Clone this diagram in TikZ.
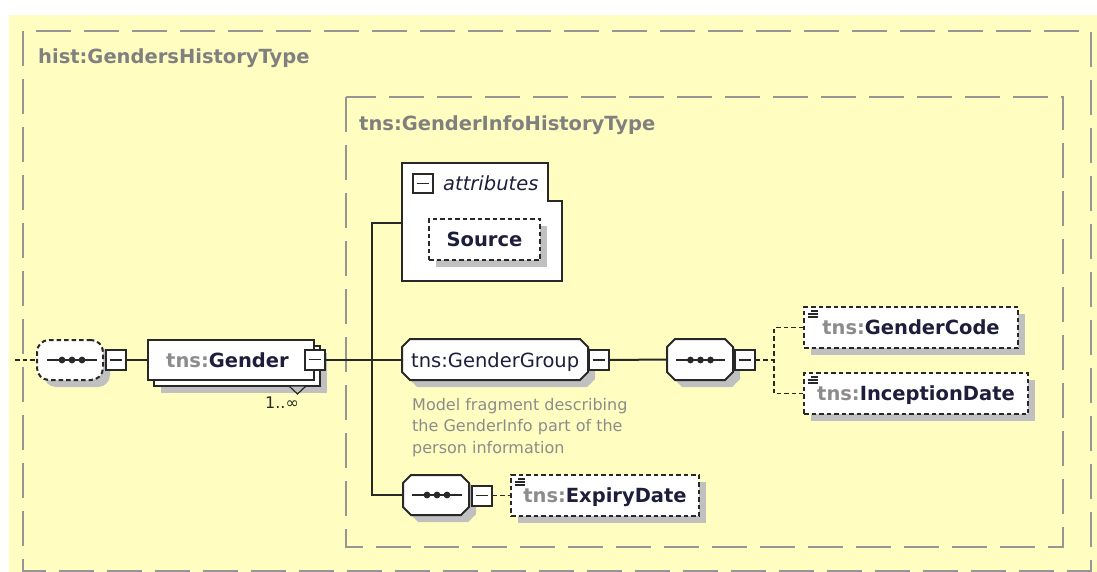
\documentclass[tikz,border=0pt]{standalone}
\usepackage{fontspec}
\setmainfont{DejaVu Sans}
\usetikzlibrary{shadows}
\definecolor{bgy}{RGB}{255,254,192}
\definecolor{framec}{RGB}{150,150,150}
\definecolor{titlec}{RGB}{128,128,128}
\definecolor{shadowc}{RGB}{192,192,192}
\definecolor{edgec}{RGB}{40,40,40}
\definecolor{namec}{RGB}{30,30,60}
\definecolor{prefc}{RGB}{140,140,140}
\definecolor{descc}{RGB}{140,140,140}
\newcommand\octo[4]{%
 \fill[shadowc] (#1+15,#2+7) -- (#3-1,#2+7) -- (#3+7,#2+15) -- (#3+7,#4-1) -- (#3-1,#4+7) -- (#1+15,#4+7) -- (#1+7,#4-1) -- (#1+7,#2+15) -- cycle;
 \draw[elemline, fill=white] (#1+8,#2) -- (#3-8,#2) -- (#3,#2+8) -- (#3,#4-8) -- (#3-8,#4) -- (#1+8,#4) -- (#1,#4-8) -- (#1,#2+8) -- cycle;}
\newcommand\seqdots[3]{%
 \draw[elemline] (#1,#3) -- (#2,#3);
 \fill[edgec] ({(#1+#2)/2-10},#3) circle (3.4pt) ({(#1+#2)/2},#3) circle (3.4pt) ({(#1+#2)/2+10},#3) circle (3.4pt);}
\newcommand\elemicon[2]{%
 \draw[edgec, line width=1.2pt] (#1+3,#2) -- (#1+10,#2) (#1,#2+3) -- (#1+10,#2+3) (#1,#2+6) -- (#1+10,#2+6);}
\tikzset{
 frame/.style={draw=framec, line width=2.8pt, dash pattern=on 35pt off 13pt},
 titletext/.style={text=titlec, font=\fontsize{19.5}{23}\selectfont\bfseries, inner sep=0, anchor=base west},
 elemline/.style={draw=edgec, line width=2pt},
 shad/.style={drop shadow={shadow xshift=7pt, shadow yshift=-7pt, fill=shadowc, opacity=1}},
 optbox/.style={elemline, dash pattern=on 4.5pt off 3pt, fill=white, shad, inner sep=0, minimum height=41pt, text height=16pt, text depth=2pt, font=\fontsize{19.5}{23}\selectfont\bfseries, text=namec},
 minusbox/.style={elemline, fill=white, inner sep=0, minimum width=20pt, minimum height=20pt, path picture={\draw[edgec, line width=1.6pt] ([xshift=4pt]path picture bounding box.west) -- ([xshift=-4pt]path picture bounding box.east);}},
 hit/.style={inner sep=0, outer sep=0},
 conn/.style={draw=edgec, line width=2pt},
 dconn/.style={draw=edgec, line width=1.8pt, dash pattern=on 4.5pt off 3pt},
}
\begin{document}
\begin{tikzpicture}[x=1pt,y=-1pt]
\useasboundingbox (0,0) rectangle (1097,572);
\fill[white] (0,0) rectangle (1097,572);
\fill[bgy] (9,15) rectangle (1097,572);
% containers
\draw[frame] (23,31) rectangle (1091,571);
\node[titletext] (t1) at (38,64) {hist:GendersHistoryType};
\draw[frame] (346,97) rectangle (1063,547);
\node[titletext] (t2) at (359,131) {tns:GenderInfoHistoryType};
% left sequence (optional)
\node[elemline, dash pattern=on 4.5pt off 3pt, fill=white, shad, rounded corners=12pt, minimum width=66pt, minimum height=40pt, inner sep=0] (seq1) at (70,360) {};
\seqdots{47}{97}{360}
\node[minusbox] (m1) at (115.5,360) {};
% Gender element (multiple)
\node[elemline, fill=white, shad, minimum width=166pt, minimum height=40pt, inner sep=0] (genderback) at (237,366) {};
\node[elemline, fill=white, minimum width=166pt, minimum height=40pt, inner sep=0] (gender) at (231,360) {};
\node[anchor=base west, inner sep=0, font=\fontsize{19.5}{23}\selectfont\bfseries] (gendertxt) at (166,367) {\textcolor{prefc}{tns:}\textcolor{namec}{Gender}};
\node[minusbox] (m2) at (314.5,359.5) {};
\draw[edgec, line width=1.2pt, fill=shadowc] (289,386) -- (306,386) -- (297.5,394) -- cycle;
\node[anchor=base west, inner sep=0, font=\fontsize{16}{19}\selectfont, text=edgec] (card) at (265,408) {1..∞};
% attributes
\draw[elemline, fill=white] (402,163) -- (548,163) -- (548,201) -- (562,201) -- (562,281) -- (402,281) -- cycle;
\node[hit, minimum width=160pt, minimum height=118pt] (attr) at (482,223) {};
\node[minusbox, minimum width=20pt, minimum height=19pt] (ma) at (422.5,183.5) {};
\node[anchor=base west, inner sep=0, font=\fontsize{19.5}{23}\selectfont\itshape, text=namec] (attrtxt) at (443,190) {attributes};
\node[optbox, minimum width=111pt] (src) at (484.5,239.5) {Source};
% GenderGroup
\octo{402}{339}{588}{380}
\node[hit, minimum width=186pt, minimum height=41pt] (gg) at (495,359.5) {};
\node[anchor=base west, inner sep=0, font=\fontsize{19.5}{23}\selectfont, text=namec] (ggtxt) at (411,367) {tns:GenderGroup};
\node[minusbox] (m3) at (598.5,360) {};
\node[anchor=north west, inner sep=0, align=left, font=\fontsize{16}{21.5}\selectfont, text=descc] (desc) at (412,398) {Model fragment describing\\the GenderInfo part of the\\person information};
% second sequence
\octo{667}{339}{733}{380}
\node[hit, minimum width=66pt, minimum height=41pt] (seq2) at (700,359.5) {};
\seqdots{676}{725}{360}
\node[minusbox] (m4) at (744.5,360) {};
% children
\node[optbox, minimum width=214pt] (gc) at (911,327.5) {\textcolor{prefc}{tns:}GenderCode};
\elemicon{808}{311}
\node[optbox, minimum width=224pt] (id) at (916,393.5) {\textcolor{prefc}{tns:}InceptionDate};
\elemicon{808}{377}
% third sequence
\octo{403}{475}{469}{515}
\node[hit, minimum width=66pt, minimum height=40pt] (seq3) at (436,495) {};
\seqdots{412}{462}{495}
\node[minusbox] (m5) at (481.5,495.5) {};
\node[optbox, minimum width=188pt] (ed) at (605,495.5) {\textcolor{prefc}{tns:}ExpiryDate};
\elemicon{515}{479}
% connectors
\coordinate (lstart) at (15,360);
\coordinate (j1) at (372,223);
\coordinate (j3) at (372,495);
\coordinate (j4) at (774,360);
\draw[dconn] (lstart) -- (seq1.west);
\draw[conn] (m1.east) -- (gender.west);
\draw[conn] (m2.east) -- (gg.west);
\draw[conn] (attr.west) -- (j1) -- (j3) -- (seq3.west);
\draw[conn] (m3.east) -- (seq2.west);
\draw[dconn] (m4.east) -- (j4);
\draw[dconn] (gc.west) -| (j4) |- (id.west);
\draw[dconn] (m5.east) -- (ed.west);
\end{tikzpicture}
\end{document}
